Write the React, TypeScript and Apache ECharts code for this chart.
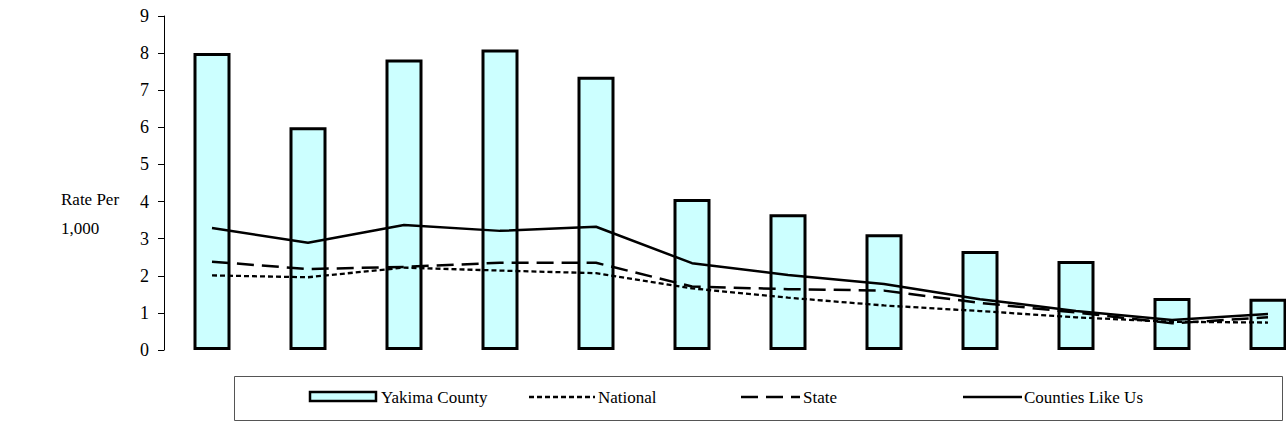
import React, { useEffect, useRef } from "react";
import * as echarts from "echarts";

const categories = ["1", "2", "3", "4", "5", "6", "7", "8", "9", "10", "11", "12"];
const yakimaCounty = [8.0, 6.0, 7.83, 8.1, 7.36, 4.07, 3.66, 3.12, 2.67, 2.4, 1.4, 1.38];
const national = [2.01, 1.96, 2.22, 2.14, 2.07, 1.66, 1.41, 1.2, 1.05, 0.88, 0.76, 0.74];
const state = [2.38, 2.18, 2.24, 2.35, 2.35, 1.71, 1.64, 1.6, 1.27, 1.01, 0.72, 0.88];
const countiesLikeUs = [3.29, 2.89, 3.37, 3.21, 3.32, 2.34, 2.02, 1.78, 1.37, 1.05, 0.81, 0.97];
const seriesNames = ["Yakima County", "National", "State", "Counties Like Us"];
const yTicks = { min: 0, max: 9, interval: 1 };
const axisTitle = "Rate Per\n1,000";

const FONT = '"Times New Roman", "Liberation Serif", "DejaVu Serif", serif';
const BAR_FILL = "#CCFFFF";

export default function App() {
  const ref = useRef<HTMLDivElement>(null);
  useEffect(() => {
    if (!ref.current) return;
    const chart = echarts.init(ref.current, null, { renderer: "svg" });
    const legendY = 397;
    const legendTextStyle = {
      fill: "#000",
      fontSize: 17,
      fontFamily: FONT,
      verticalAlign: "middle",
    };
    chart.setOption({
      animation: false,
      backgroundColor: "#fff",
      textStyle: { fontFamily: FONT },
      grid: {
        left: 164,
        top: 16,
        width: 1152,
        height: 334,
        containLabel: false,
        outerBoundsMode: "none",
      },
      xAxis: {
        type: "category",
        data: categories,
        axisLine: { show: false },
        axisTick: { show: false },
        axisLabel: { show: false },
        splitLine: { show: false },
      },
      yAxis: {
        type: "value",
        min: yTicks.min,
        max: yTicks.max,
        interval: yTicks.interval,
        axisLine: { show: true, lineStyle: { color: "#000", width: 1 } },
        axisTick: { show: true, inside: false, length: 6, lineStyle: { color: "#000" } },
        axisLabel: { color: "#000", fontSize: 18, fontFamily: FONT, margin: 15 },
        splitLine: { show: false },
      },
      series: [
        {
          name: seriesNames[0],
          type: "bar",
          data: yakimaCounty,
          barWidth: 37,
          itemStyle: { color: BAR_FILL, borderColor: "#000", borderWidth: 3 },
          z: 1,
        },
        {
          name: seriesNames[1],
          type: "line",
          data: national,
          symbol: "none",
          lineStyle: { color: "#000", width: 2.3, type: [5, 3] },
          z: 3,
        },
        {
          name: seriesNames[2],
          type: "line",
          data: state,
          symbol: "none",
          lineStyle: { color: "#000", width: 2.5, type: [17, 8] },
          z: 3,
        },
        {
          name: seriesNames[3],
          type: "line",
          data: countiesLikeUs,
          symbol: "none",
          lineStyle: { color: "#000", width: 2.5, type: "solid" },
          z: 4,
        },
      ],
      graphic: [
        {
          type: "text",
          left: 61,
          top: 185,
          style: { text: axisTitle, fill: "#000", fontSize: 17, fontFamily: FONT, lineHeight: 29 },
        },
        {
          type: "rect",
          shape: { x: 234.5, y: 376.5, width: 1048, height: 44 },
          style: { fill: "none", stroke: "#555", lineWidth: 1 },
        },
        {
          type: "rect",
          shape: { x: 310, y: 392, width: 66, height: 9 },
          style: { fill: BAR_FILL, stroke: "#000", lineWidth: 2.5 },
        },
        { type: "text", x: 381, y: legendY, style: { ...legendTextStyle, text: seriesNames[0] } },
        {
          type: "line",
          shape: { x1: 529, y1: legendY, x2: 595, y2: legendY },
          style: { stroke: "#000", lineWidth: 2.3, lineDash: [5, 3] },
        },
        { type: "text", x: 598, y: legendY, style: { ...legendTextStyle, text: seriesNames[1] } },
        {
          type: "line",
          shape: { x1: 741, y1: legendY, x2: 800, y2: legendY },
          style: { stroke: "#000", lineWidth: 2.5, lineDash: [17, 8] },
        },
        { type: "text", x: 803, y: legendY, style: { ...legendTextStyle, text: seriesNames[2] } },
        {
          type: "line",
          shape: { x1: 963, y1: legendY, x2: 1022, y2: legendY },
          style: { stroke: "#000", lineWidth: 2.5 },
        },
        { type: "text", x: 1024, y: legendY, style: { ...legendTextStyle, text: seriesNames[3] } },
      ],
    });
    return () => chart.dispose();
  }, []);
  return (
    <div
      ref={ref}
      style={{ position: "fixed", left: 0, top: 0, width: 1286, height: 432, background: "#fff" }}
    />
  );
}
